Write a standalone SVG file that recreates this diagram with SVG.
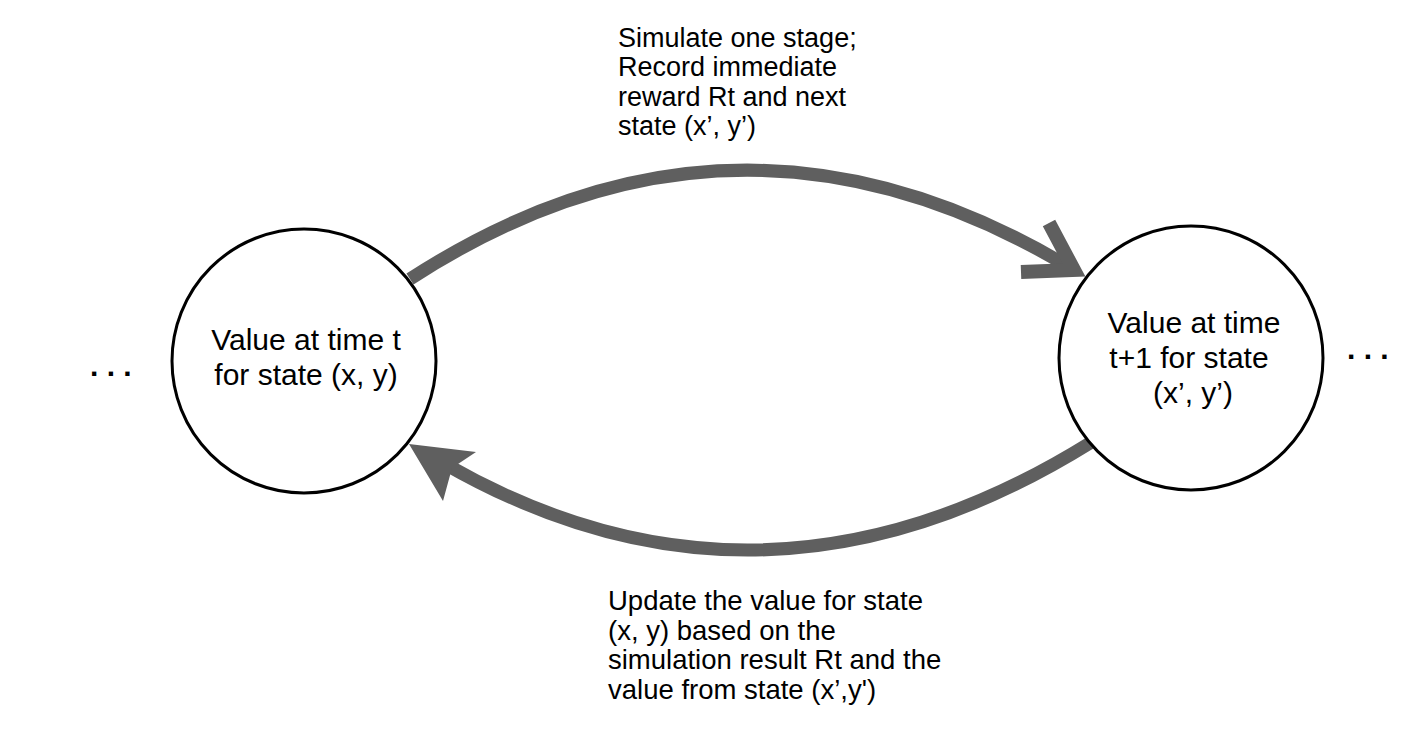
<svg xmlns="http://www.w3.org/2000/svg" width="1412" height="732" viewBox="0 0 1412 732">
  <style>
    .node { fill: #ffffff; stroke: #000000; stroke-width: 3; }
    .ntext { font-family: "Liberation Sans", Arial, Helvetica, sans-serif; font-size: 30px; fill: #000000; text-anchor: middle; }
    .label { font-family: "Liberation Sans", Arial, Helvetica, sans-serif; font-size: 27px; fill: #000000; }
    .label-b { font-family: "Liberation Sans", Arial, Helvetica, sans-serif; font-size: 27.5px; fill: #000000; }
    .dots { font-family: "Liberation Sans", Arial, Helvetica, sans-serif; font-size: 30px; font-weight: bold; fill: #000000; }
    .shaft { fill: none; stroke: #5f5f5f; stroke-width: 13; stroke-linecap: butt; }
    .vhead { fill: none; stroke: #5f5f5f; stroke-width: 14; stroke-linejoin: miter; stroke-linecap: butt; }
    .head { fill: #5f5f5f; stroke: none; }
  </style>
  <rect x="0" y="0" width="1412" height="732" fill="#ffffff"/>

  <g id="connectors">
    <g id="edge-forward">
      <path class="shaft" d="M 410 279 Q 738 66 1074 270"/>
      <polyline class="vhead" points="1049,223 1074,270 1021,272"/>
    </g>
    <g id="edge-backward">
      <path class="shaft" d="M 1090 443 Q 763 646 445 464"/>
      <polygon class="head" points="409,444 476,452 452,468 443,501"/>
    </g>
  </g>

  <g id="node-t">
    <circle class="node" cx="304" cy="361" r="132"/>
    <text class="ntext" x="306" y="350">Value at time t</text>
    <text class="ntext" x="306" y="385">for state (x, y)</text>
  </g>

  <g id="node-t1">
    <circle class="node" cx="1191" cy="358" r="132"/>
    <text class="ntext" x="1194" y="333">Value at time</text>
    <text class="ntext" x="1189" y="368">t+1 for state</text>
    <text class="ntext" x="1193" y="403">(x’, y’)</text>
  </g>

  <g id="dots-left">
    <text class="dots" x="90" y="376">. . .</text>
  </g>
  <g id="dots-right">
    <text class="dots" x="1347" y="359">. . .</text>
  </g>

  <g id="label-forward">
    <text class="label" x="618" y="47">Simulate one stage;</text>
    <text class="label" x="618" y="76">Record immediate</text>
    <text class="label" x="618" y="105.5">reward Rt and next</text>
    <text class="label" x="618" y="135">state (x’, y’)</text>
  </g>

  <g id="label-backward">
    <text class="label-b" x="608" y="610">Update the value for state</text>
    <text class="label-b" x="608" y="639.5">(x, y) based on the</text>
    <text class="label-b" x="608" y="669">simulation result Rt and the</text>
    <text class="label-b" x="608" y="698.5">value from state (x’,y')</text>
  </g>
</svg>
